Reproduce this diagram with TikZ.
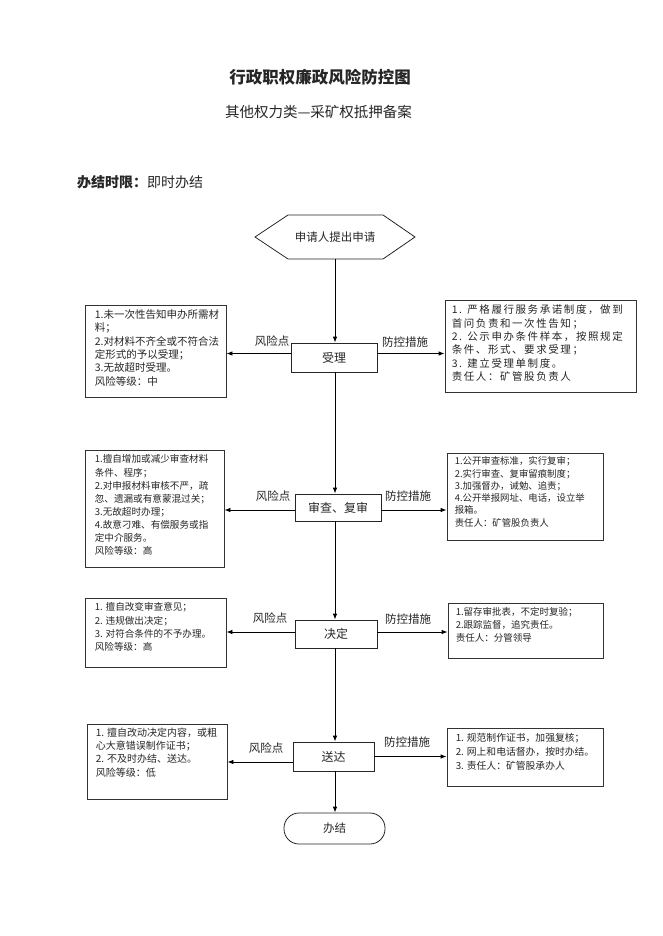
\documentclass[tikz,border=0pt]{standalone}
\usepackage{fontspec}
\setmainfont{Noto Sans CJK SC}
\usetikzlibrary{arrows.meta}
\tikzset{
  x=1pt, y=-1pt,
  txt/.style={text=black!85},
  stepbox/.style={draw=black!85, line width=0.8pt, inner sep=0pt},
  infobox/.style={draw=black!80, line width=0.8pt, inner sep=0pt},
  boxtext/.style={anchor=north west, inner sep=0pt, align=left, text=black!85, font=\fontsize{10}{13.3}\selectfont},
  lbl/.style={text=black!85, font=\fontsize{11.5}{13}\selectfont, inner sep=0pt},
  flow/.style={line width=0.8pt, draw=black, -{Latex[length=6pt,width=4.5pt]}},
}
\begin{document}
\begin{tikzpicture}
\useasboundingbox[fill=white] (0,0) rectangle (662,936);

% titles
\node[txt, font=\fontsize{16.5}{18}\selectfont\bfseries] (title) at (320,77) {行政职权廉政风险防控图};
\node[txt, font=\fontsize{14.5}{16}\selectfont] (subtitle) at (318.5,112) {其他权力类—采矿权抵押备案};
\node[txt, anchor=west, inner sep=0pt, font=\fontsize{14}{16}\selectfont] (limit) at (77,182) {{\bfseries 办结时限：}即时办结};

% start hexagon
\draw[line width=0.8pt, draw=black!85] (255,237) -- (288,215) -- (383,215) -- (415,237) -- (383,259) -- (288,259) -- cycle;
\node[txt, minimum height=44pt, minimum width=100pt, inner sep=0pt, font=\fontsize{11.5}{13}\selectfont] (hex) at (335,237) {申请人提出申请};

% steps
\node[stepbox, minimum width=86pt, minimum height=29pt, font=\fontsize{12}{14}\selectfont, text=black!85] (b1) at (334,357.5) {受理};
\node[stepbox, minimum width=86pt, minimum height=27pt, font=\fontsize{12}{14}\selectfont, text=black!85] (b2) at (338,507.5) {审查、复审};
\node[stepbox, minimum width=82pt, minimum height=28pt, font=\fontsize{12}{14}\selectfont, text=black!85] (b3) at (336,634) {决定};
\node[stepbox, minimum width=81pt, minimum height=29pt, font=\fontsize{12}{14}\selectfont, text=black!85] (b4) at (333.5,756.5) {送达};
\node[stepbox, minimum width=101pt, minimum height=31pt, rounded corners=15pt, font=\fontsize{11.5}{14}\selectfont, text=black!85] (end) at (334.5,828.5) {办结};

% risk boxes (left)
\node[infobox, minimum width=141pt, minimum height=92pt] (r1) at (155.5,351) {};
\node[infobox, minimum width=139pt, minimum height=117pt] (r2) at (154.5,508.5) {};
\node[infobox, minimum width=141pt, minimum height=69pt] (r3) at (155.5,632.5) {};
\node[infobox, minimum width=140pt, minimum height=75pt] (r4) at (157,761.5) {};

% measure boxes (right)
\node[infobox, minimum width=191pt, minimum height=92pt] (m1) at (540.5,346) {};
\node[infobox, minimum width=156pt, minimum height=87pt] (m2) at (525,496.5) {};
\node[infobox, minimum width=155pt, minimum height=55pt] (m3) at (525.5,630.5) {};
\node[infobox, minimum width=156pt, minimum height=58pt] (m4) at (525,757) {};

% box texts
\node[boxtext, font=\fontsize{10.5}{13.3}\selectfont] (r1t) at ([xshift=10pt,yshift=-5pt]r1.north west) {1.未一次性告知申办所需材\\料；\\2.对材料不齐全或不符合法\\定形式的予以受理；\\3.无故超时受理。\\风险等级：中};
\node[boxtext, font=\fontsize{10.5}{13.4}\selectfont\addfontfeatures{LetterSpace=15}] (m1t) at ([xshift=7pt,yshift=-5pt]m1.north west) {1. 严格履行服务承诺制度，做到\\首问负责和一次性告知；\\2. 公示申办条件样本，按照规定\\条件、形式、要求受理；\\3. 建立受理单制度。\\责任人：矿管股负责人};
\node[boxtext, font=\fontsize{9.6}{13.1}\selectfont] (r2t) at ([xshift=10pt,yshift=-5pt]r2.north west) {1.擅自增加或减少审查材料\\条件、程序；\\2.对申报材料审核不严，疏\\忽、遗漏或有意蒙混过关；\\3.无故超时办理；\\4.故意刁难、有偿服务或指\\定中介服务。\\风险等级：高};
\node[boxtext, font=\fontsize{9.4}{12.3}\selectfont] (m2t) at ([xshift=8pt,yshift=-4pt]m2.north west) {1.公开审查标准，实行复审；\\2.实行审查、复审留痕制度；\\3.加强督办，诫勉、追责；\\4.公开举报网址、电话，设立举\\报箱。\\责任人：矿管股负责人};
\node[boxtext, font=\fontsize{9.6}{13.3}\selectfont] (r3t) at ([xshift=10pt,yshift=-5pt]r3.north west) {1. 擅自改变审查意见；\\2. 违规做出决定；\\3. 对符合条件的不予办理。\\风险等级：高};
\node[boxtext, font=\fontsize{9.5}{12.8}\selectfont] (m3t) at ([xshift=8pt,yshift=-5pt]m3.north west) {1.留存审批表，不定时复验；\\2.跟踪监督，追究责任。\\责任人：分管领导};
\node[boxtext, font=\fontsize{10}{13.3}\selectfont] (r4t) at ([xshift=9pt,yshift=-4pt]r4.north west) {1. 擅自改动决定内容，或粗\\心大意错误制作证书；\\2. 不及时办结、送达。\\风险等级：低};
\node[boxtext, font=\fontsize{9.8}{14}\selectfont] (m4t) at ([xshift=9pt,yshift=-5pt]m4.north west) {1. 规范制作证书，加强复核；\\2. 网上和电话督办，按时办结。\\3. 责任人：矿管股承办人};

% vertical flow
\draw[flow] (hex.south) -- (hex.south |- b1.north);
\draw[flow] (hex.south |- b1.south) -- (hex.south |- b2.north);
\draw[flow] (hex.south |- b2.south) -- (hex.south |- b3.north);
\draw[flow] (hex.south |- b3.south) -- (hex.south |- b4.north);
\draw[flow] (hex.south |- b4.south) -- (hex.south |- end.north);

% horizontal arrows
\draw[flow] ([yshift=4pt]b1.west) -- ([yshift=4pt]b1.west -| r1.east);
\draw[flow] ([yshift=4pt]b1.east) -- ([yshift=4pt]b1.east -| m1.west);
\draw[flow] ([yshift=-2.5pt]b2.west) -- ([yshift=-2.5pt]b2.west -| r2.east);
\draw[flow] ([yshift=-2.5pt]b2.east) -- ([yshift=-2.5pt]b2.east -| m2.west);
\draw[flow] ([yshift=2pt]b3.west) -- ([yshift=2pt]b3.west -| r3.east);
\draw[flow] ([yshift=2pt]b3.east) -- ([yshift=2pt]b3.east -| m3.west);
\draw[flow] ([yshift=-5.5pt]b4.west) -- ([yshift=-5.5pt]b4.west -| r4.east);
\draw[flow] (b4.east) -- (b4.east -| m4.west);

% arrow labels
\node[lbl] (l1) at (272,341) {风险点};
\node[lbl] (p1) at (405,342) {防控措施};
\node[lbl] (l2) at (273,496) {风险点};
\node[lbl] (p2) at (408,496) {防控措施};
\node[lbl] (l3) at (270,618) {风险点};
\node[lbl] (p3) at (408,619) {防控措施};
\node[lbl] (l4) at (266,748) {风险点};
\node[lbl] (p4) at (407,742) {防控措施};
\end{tikzpicture}
\end{document}
